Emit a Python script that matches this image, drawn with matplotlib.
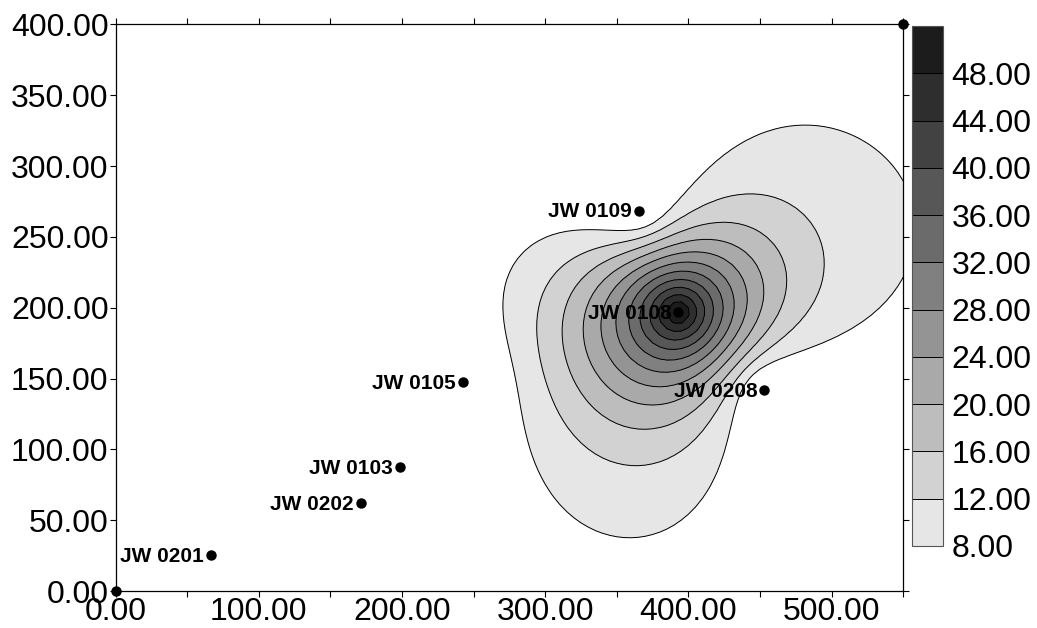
import numpy as np
import matplotlib
matplotlib.use("Agg")
import matplotlib.pyplot as plt

wells = ["JW 0201", "JW 0202", "JW 0103", "JW 0105", "JW 0109", "JW 0108", "JW 0208", "", ""]
well_x = [66.6, 171.3, 198.5, 242.7, 365.5, 393.0, 452.8, 0.0, 550.0]
well_y = [25.4, 62.4, 87.8, 147.6, 268.6, 197.0, 142.0, 0.0, 400.0]
well_z = [2.0, 3.0, 2.0, 1.0, 0.0, 54.5, 0.0, 4.0, 6.0]

levels = [8, 12, 16, 20, 24, 28, 32, 36, 40, 44, 48, 52]
grays = ["#e6e6e6", "#d2d2d2", "#bdbdbd", "#a9a9a9", "#949494", "#808080",
         "#6b6b6b", "#575757", "#424242", "#2e2e2e", "#1c1c1c"]

plt.rcParams["font.family"] = ["Liberation Sans", "DejaVu Sans"]

# ordinary kriging, rational variogram h / (1 + h / L)
px = np.array(well_x)
py = np.array(well_y)
pz = np.array(well_z)
n = len(px)
L = 150.0


def vario(h):
    return h / (1 + h / L)


A = np.ones((n + 1, n + 1))
A[:n, :n] = vario(np.hypot(px[:, None] - px[None, :], py[:, None] - py[None, :]))
A[n, n] = 0.0

gx = np.arange(0, 550.1, 5)
gy = np.arange(0, 400.1, 5)
GX, GY = np.meshgrid(gx, gy)
dg = vario(np.hypot(GX.ravel()[None, :] - px[:, None], GY.ravel()[None, :] - py[:, None]))
B = np.vstack([dg, np.ones((1, dg.shape[1]))])
W = np.linalg.solve(A, B)
Z = (W[:n].T @ pz).reshape(GX.shape)
Z = np.minimum(Z, 51.9)

fig = plt.figure(figsize=(10.37, 6.28), dpi=100)
ax = fig.add_axes([0.1114, 0.0589, 0.7597, 0.9021])

cf = ax.contourf(GX, GY, Z, levels=levels, colors=grays)
cs = ax.contour(GX, GY, Z, levels=levels, colors="black", linewidths=0.7)

ax.plot(px, py, "o", color="black", markersize=6.5, clip_on=False, zorder=5)
for name, x, y in zip(wells, well_x, well_y):
    if name:
        ax.annotate(name, (x, y), xytext=(-5, -1), textcoords="offset points",
                    ha="right", va="center", fontsize=15, fontweight="bold", zorder=6)

ax.set_xlim(0, 550)
ax.set_ylim(0, 400)
ax.set_xticks(np.arange(0, 551, 50))
ax.set_xticklabels(["%.2f" % v if v % 100 == 0 else "" for v in np.arange(0, 551, 50)])
ax.set_yticks(np.arange(0, 401, 50))
ax.set_yticklabels(["%.2f" % v for v in np.arange(0, 401, 50)])
ax.tick_params(labelsize=23, length=4, width=0.8, pad=1, top=True, right=True, direction="out")
ax.tick_params(axis="x", pad=0)
for s in ax.spines.values():
    s.set_linewidth(0.9)

cax = fig.add_axes([0.8795, 0.1306, 0.0299, 0.828])
cb = fig.colorbar(cf, cax=cax)
cb.add_lines(cs)
cb.set_ticks(levels[:-1])
cb.set_ticklabels(["%.2f" % v for v in levels[:-1]])
cb.ax.tick_params(labelsize=23, length=0, pad=6)
cb.outline.set_edgecolor("#555555")
cb.outline.set_linewidth(0.8)

fig.savefig("out.png", dpi=100)
